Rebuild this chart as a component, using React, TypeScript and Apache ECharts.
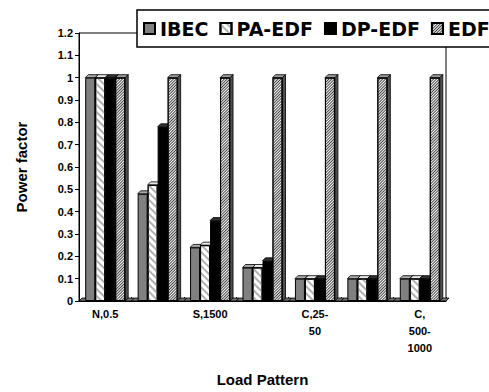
import React, { useEffect, useRef } from "react";
import * as echarts from "echarts";

const categories = ["N,0.5", "", "S,1500", "", "C,25-\n50", "", "C,\n500-\n1000"];
const seriesNames = ["IBEC", "PA-EDF", "DP-EDF", "EDF"];
const ibec = [1, 0.48, 0.24, 0.15, 0.1, 0.1, 0.1];
const paEdf = [1, 0.52, 0.25, 0.15, 0.1, 0.1, 0.1];
const dpEdf = [1, 0.78, 0.36, 0.18, 0.1, 0.1, 0.1];
const edf = [1, 1, 1, 1, 1, 1, 1];
const yTicks = [0, 0.1, 0.2, 0.3, 0.4, 0.5, 0.6, 0.7, 0.8, 0.9, 1, 1.1, 1.2];

const FONT = "'Liberation Sans', Arial, sans-serif";
const LEGEND_FONT = "'DejaVu Sans', 'Liberation Sans', sans-serif";
const BAR_W = 10;
const DEPTH = 3;

const fronts = [
  { color: "#808080" },
  {
    color: "#ffffff",
    decal: { symbol: "rect", symbolSize: 1, color: "#b0b0b0", dashArrayX: [1, 0], dashArrayY: [2, 3], rotation: Math.PI / 4 },
  },
  { color: "#000000" },
  {
    color: "#ffffff",
    decal: { symbol: "rect", symbolSize: 1, color: "#404040", dashArrayX: [1, 0], dashArrayY: [1, 1], rotation: -Math.PI / 4 },
  },
];
const tops = ["#a8a8a8", "#e8e8e8", "#303030", "#9a9a9a"];
const sides = ["#505050", "#909090", "#000000", "#505050"];

export default function App() {
  const ref = useRef<HTMLDivElement>(null);
  useEffect(() => {
    if (!ref.current) return;
    const chart = echarts.init(ref.current, null, { renderer: "svg" });
    const values = [ibec, paEdf, dpEdf, edf];
    const barSeries = seriesNames.map((name, s) => ({
      name,
      type: "bar",
      data: values[s],
      barWidth: BAR_W,
      barGap: "0%",
      z: 3,
      itemStyle: { ...fronts[s], borderColor: "#000", borderWidth: 1 },
    }));
    const depthData = categories.map((_, i) => [i, ibec[i], paEdf[i], dpEdf[i], edf[i]]);
    const depthSeries = {
      type: "custom",
      z: 2,
      silent: true,
      data: depthData,
      encode: { x: 0, y: 4 },
      renderItem: (params: any, api: any) => {
        const idx = api.value(0);
        const [cx, y0] = api.coord([idx, 0]);
        const band = api.size([1, 0])[0];
        const children: any[] = [];
        const xl = cx - band / 2;
        const xr = cx + band / 2;
        children.push({
          type: "polygon",
          shape: { points: [[xl, y0], [xl + DEPTH, y0 - DEPTH], [xr + DEPTH, y0 - DEPTH], [xr, y0]] },
          style: { fill: "#707070", stroke: "#000", lineWidth: 0.8 },
        });
        for (let s = 0; s < 4; s++) {
          const v = api.value(s + 1);
          const y = api.coord([idx, v])[1];
          const x0 = cx - 2 * BAR_W + s * BAR_W;
          const x1 = x0 + BAR_W;
          children.push({
            type: "polygon",
            shape: { points: [[x0, y], [x0 + DEPTH, y - DEPTH], [x1 + DEPTH, y - DEPTH], [x1, y]] },
            style: { fill: tops[s], stroke: "#000", lineWidth: 0.8 },
          });
          children.push({
            type: "polygon",
            shape: { points: [[x1, y], [x1 + DEPTH, y - DEPTH], [x1 + DEPTH, y0 - DEPTH], [x1, y0]] },
            style: { fill: sides[s], stroke: "#000", lineWidth: 0.8 },
          });
        }
        return { type: "group", children };
      },
    };
    chart.setOption({
      animation: false,
      backgroundColor: "#ffffff",
      textStyle: { fontFamily: FONT },
      grid: {
        left: 79,
        right: 43,
        top: 33,
        bottom: 85,
        show: true,
        borderColor: "#000",
        borderWidth: 1,
        backgroundColor: "transparent",
      },
      legend: {
        data: seriesNames,
        icon: "rect",
        orient: "horizontal",
        left: 137,
        top: 10,
        width: 480,
        padding: [9, 20, 9, 6],
        itemGap: 11,
        itemWidth: 11,
        itemHeight: 11,
        backgroundColor: "#ffffff",
        borderColor: "#000",
        borderWidth: 1.5,
        borderRadius: 0,
        z: 10,
        textStyle: { fontFamily: LEGEND_FONT, fontSize: 19, fontWeight: "bold", color: "#000" },
      },
      xAxis: {
        type: "category",
        data: categories,
        name: "Load Pattern",
        nameLocation: "middle",
        nameGap: 71,
        nameTextStyle: { fontFamily: FONT, fontSize: 15, fontWeight: "bold", color: "#000" },
        axisLine: { show: true, lineStyle: { color: "#000", width: 1 } },
        axisTick: { show: true, inside: true, length: 4, lineStyle: { color: "#000" } },
        axisLabel: {
          interval: 0,
          margin: 4,
          fontFamily: FONT,
          fontSize: 11,
          fontWeight: "bold",
          color: "#000",
          lineHeight: 17,
        },
        splitLine: { show: false },
      },
      yAxis: {
        type: "value",
        min: 0,
        max: 1.2,
        interval: 0.1,
        name: "Power factor",
        nameLocation: "middle",
        nameGap: 50,
        nameTextStyle: { fontFamily: FONT, fontSize: 15, fontWeight: "bold", color: "#000" },
        axisLine: { show: true, lineStyle: { color: "#000", width: 1 } },
        axisTick: { show: true, length: 4, lineStyle: { color: "#000" } },
        axisLabel: {
          fontFamily: FONT,
          fontSize: 11,
          fontWeight: "bold",
          color: "#000",
          margin: 6,
          formatter: (v: number) => {
            const t = yTicks.find((k) => Math.abs(k - v) < 1e-6);
            return String(t !== undefined ? t : +v.toFixed(1));
          },
        },
        splitLine: { show: false },
      },
      series: [depthSeries, ...barSeries],
    });
    return () => chart.dispose();
  }, []);
  return (
    <div
      ref={ref}
      style={{ position: "absolute", left: 0, top: 0, width: 489, height: 392 }}
    />
  );
}
